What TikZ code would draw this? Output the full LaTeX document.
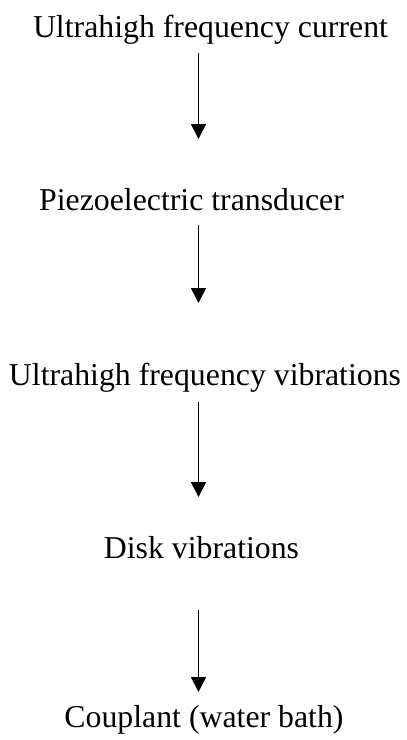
\documentclass[tikz,border=0pt]{standalone}
\usepackage{fontspec}
\setmainfont{Liberation Serif}
\usetikzlibrary{arrows.meta}
\begin{document}
\begin{tikzpicture}[x=1pt,y=-1pt,
  lbl/.style={anchor=base,inner sep=0pt,font=\fontsize{31.8}{38}\selectfont},
  flow/.style={line width=1.8pt,-{Triangle[width=15pt,length=15pt]}}]
\useasboundingbox (0,0) rectangle (407,740);
\node[lbl] (n1) at (210.5,37) {Ultrahigh frequency current};
\node[lbl] (n2) at (191.5,210) {Piezoelectric transducer};
\node[lbl] (n3) at (205,385) {Ultrahigh frequency vibrations};
\node[lbl] (n4) at (201.5,558) {Disk vibrations};
\node[lbl] (n5) at (204,727) {Couplant (water bath)};
\coordinate (a1s) at (198.5,53);
\coordinate (a1e) at (198.5,139);
\coordinate (a2s) at (198.5,225);
\coordinate (a2e) at (198.5,303);
\coordinate (a3s) at (198.5,402);
\coordinate (a3e) at (198.5,497);
\coordinate (a4s) at (198.5,610);
\coordinate (a4e) at (198.5,692);
\draw[flow] (a1s) -- (a1e);
\draw[flow] (a2s) -- (a2e);
\draw[flow] (a3s) -- (a3e);
\draw[flow] (a4s) -- (a4e);
\end{tikzpicture}
\end{document}
